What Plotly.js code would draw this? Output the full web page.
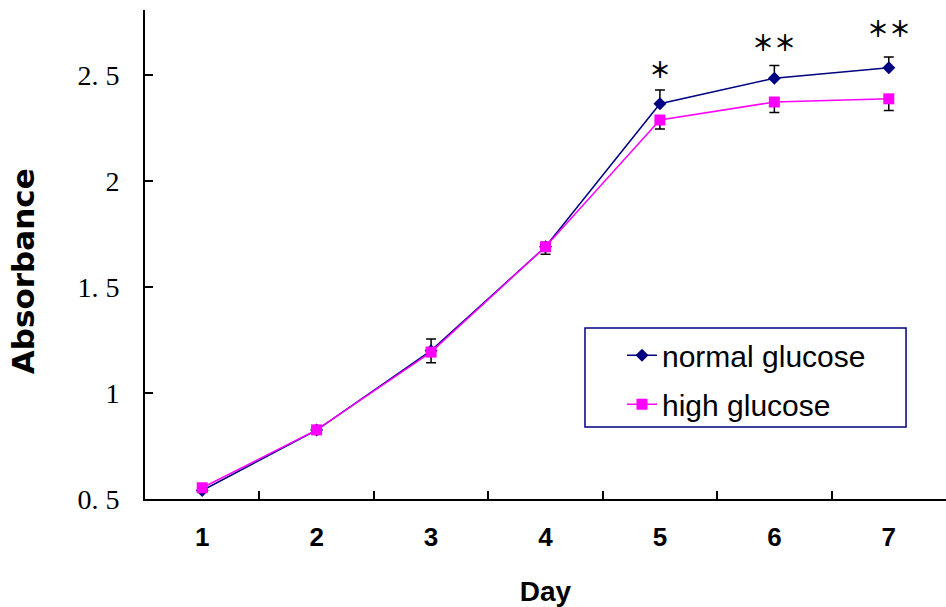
<!DOCTYPE html>
<html>
<head>
<meta charset="utf-8">
<script src="https://cdn.plot.ly/plotly-3.0.1.min.js"></script>
<style>html,body{margin:0;padding:0;background:#fff;}#chart{width:946px;height:607px;}</style>
</head>
<body>
<div id="chart"></div>
<script>
// ---- data ----
const days = ['1', '2', '3', '4', '5', '6', '7'];
const normalGlucose = [0.54, 0.825, 1.20, 1.69, 2.365, 2.485, 2.535];
const normalErrUp = [0.015, 0.015, 0.055, 0.02, 0.065, 0.06, 0.05];
const highGlucose = [0.553, 0.826, 1.193, 1.69, 2.288, 2.373, 2.388];
const highErrDown = [0.02, 0.015, 0.05, 0.035, 0.042, 0.05, 0.055];
const yTickVals = [0.5, 1, 1.5, 2, 2.5];
const yTickText = ['0. 5', '1', '1. 5', '2', '2. 5'];
const sigDays = ['5', '6', '7'];
const sigLabels = ['＊', '＊＊', '＊＊'];
const sigY = [2.533, 2.663, 2.729];

const zeros = days.map(() => 0);

const traces = [
  {
    x: days, y: normalGlucose, name: 'normal glucose', type: 'scatter', mode: 'lines+markers',
    line: {color: '#000080', width: 1.5},
    marker: {symbol: 'diamond', size: 10, color: '#000080'},
    error_y: {type: 'data', symmetric: false, array: normalErrUp, arrayminus: zeros, color: '#000000', thickness: 1.5, width: 5},
    legendgroup: 'a'
  },
  {
    x: days, y: highGlucose, name: 'high glucose', type: 'scatter', mode: 'lines+markers',
    line: {color: '#FF00FF', width: 1.5},
    marker: {symbol: 'square', size: 11, color: '#FF00FF'},
    error_y: {type: 'data', symmetric: false, array: zeros, arrayminus: highErrDown, color: '#000000', thickness: 1.5, width: 5},
    legendgroup: 'b'
  }
];

// category axis: annotation x given as the category index
const annotations = sigDays.map((d, i) => ({
  x: days.indexOf(d), y: sigY[i], xref: 'x', yref: 'y', text: sigLabels[i], showarrow: false,
  xanchor: 'center', yanchor: 'middle',
  font: {family: '"Noto Sans CJK SC", sans-serif', size: 22, color: '#000000', weight: 'bold'}
}));
annotations.push({
  text: 'Absorbance', xref: 'paper', yref: 'paper', x: -0.1523, y: 0.466,
  xanchor: 'center', yanchor: 'middle', textangle: -90, showarrow: false,
  font: {family: '"DejaVu Sans", sans-serif', size: 31, color: '#000000', weight: 'bold'}
});

const layout = {
  width: 946, height: 607,
  margin: {l: 145, r: 0, t: 10, b: 108},
  paper_bgcolor: '#ffffff', plot_bgcolor: '#ffffff',
  showlegend: true,
  legend: {
    x: 0.5955, y: 0.347, xanchor: 'left', yanchor: 'top',
    bgcolor: 'rgba(0,0,0,0)', borderwidth: 0,
    font: {family: '"Liberation Sans", Arial, sans-serif', size: 30, color: '#000000'},
    tracegroupgap: 7, traceorder: 'grouped'
  },
  xaxis: {
    type: 'category', range: [-0.5, 6.5],
    showline: true, linecolor: '#000000', linewidth: 2,
    ticks: 'inside', tickson: 'boundaries', ticklen: 8, tickwidth: 2, tickcolor: '#000000',
    showgrid: false, zeroline: false,
    tickfont: {family: '"Liberation Sans", Arial, sans-serif', size: 26, color: '#000000', weight: 'bold'},
    ticklabelstandoff: 14,
    title: {text: 'Day', font: {family: '"Liberation Sans", Arial, sans-serif', size: 28, color: '#000000', weight: 'bold'}, standoff: 38}
  },
  yaxis: {
    range: [0.5, 2.807],
    tickvals: yTickVals, ticktext: yTickText,
    showline: true, linecolor: '#000000', linewidth: 2,
    ticks: 'inside', ticklen: 8, tickwidth: 2, tickcolor: '#000000',
    showgrid: false, zeroline: false,
    tickfont: {family: '"Liberation Serif", serif', size: 28, color: '#000000'},
    ticklabelstandoff: 18
  },
  annotations: annotations,
  shapes: [{
    type: 'rect', xref: 'paper', yref: 'paper',
    x0: 0.5493, x1: 0.9501, y0: 0.1472, y1: 0.3497,
    line: {color: '#000080', width: 1.5}, fillcolor: 'rgba(0,0,0,0)'
  }]
};

Plotly.newPlot('chart', traces, layout, {displayModeBar: false, staticPlot: true});
</script>
</body>
</html>
